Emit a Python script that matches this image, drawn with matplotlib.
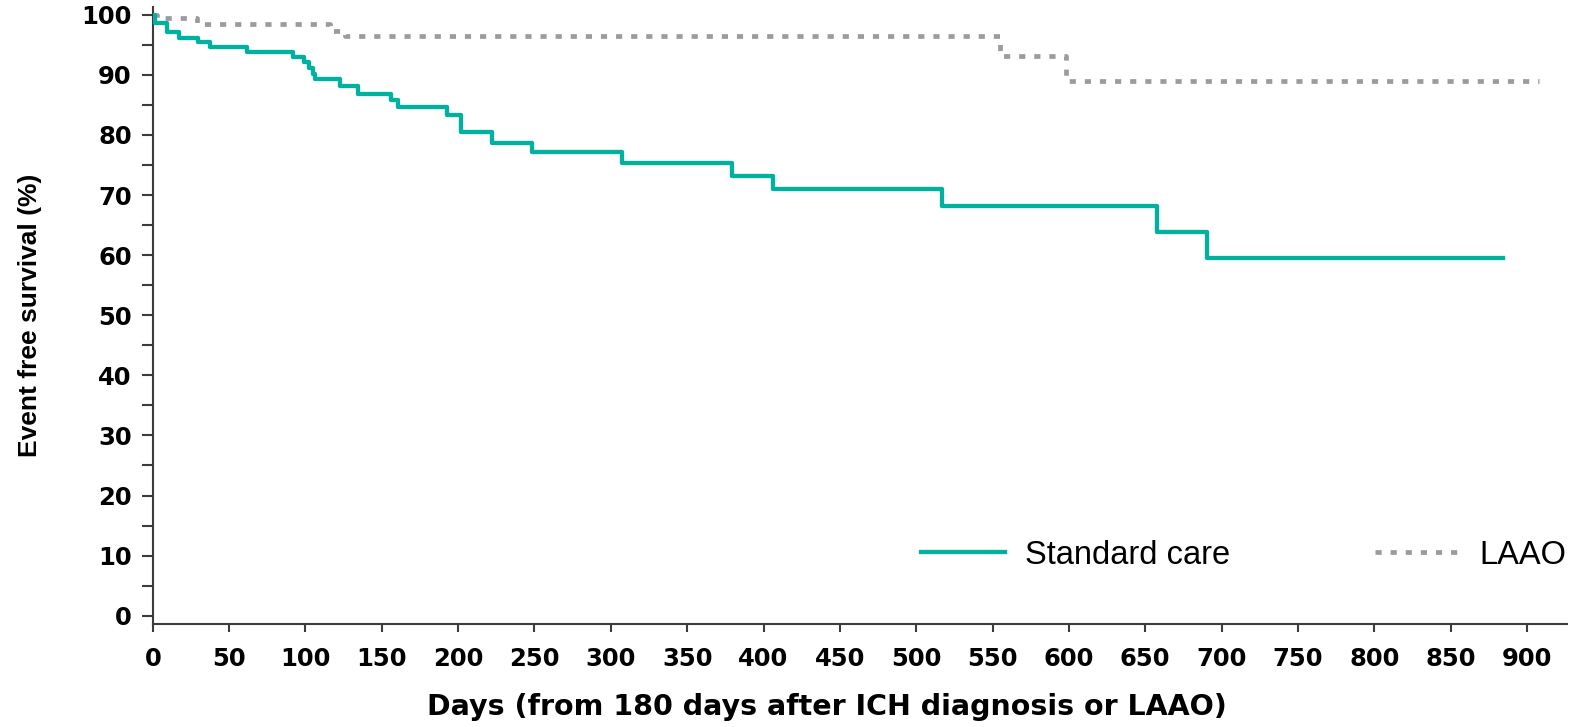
import numpy as np
import matplotlib.pyplot as plt
from matplotlib.ticker import MultipleLocator

# Kaplan-Meier style steps (days, event free %)
sc_days = [0, 1.5, 9.2, 17.4, 29.9, 37.5, 61.9, 92.1, 99.3, 102.5, 104.8, 106.3,
           122.6, 134.6, 155.8, 160.4, 192.5, 201.9, 222, 248.2, 307.5, 379.5,
           406.3, 517, 657.6, 690.3, 884]
sc_surv = [100, 98.7, 97.1, 96.2, 95.4, 94.6, 93.8, 93.0, 92.1, 91.1, 90.2, 89.3,
           88.2, 86.8, 85.8, 84.7, 83.3, 80.5, 78.6, 77.1, 75.3, 73.2,
           71.0, 68.1, 63.8, 59.5, 59.5]

laao_days = [0, 3, 28.8, 116, 126, 555, 598, 908]
laao_surv = [100, 99.4, 98.5, 97.3, 96.4, 93.1, 88.9, 88.9]

x_ticks = np.arange(0, 901, 50)
y_ticks = np.arange(0, 101, 10)

teal = '#00b1a0'
grey = '#9a9b9f'
axis_col = '#3c3c3c'

fig = plt.figure(figsize=(15.75, 7.27), dpi=100)
ax = fig.add_axes([0.0970, 0.1415, 0.8977, 0.8489])

ax.step(laao_days, laao_surv, where='post', color=grey, lw=3.4,
        linestyle=(0, (1.3, 1.9)), label='LAAO', zorder=2)
ax.step(sc_days, sc_surv, where='post', color=teal, lw=3.1,
        label='Standard care', zorder=3)

ax.set_xlim(0, 926)
ax.set_ylim(-1.4, 101.3)
ax.set_xticks(x_ticks)
ax.set_yticks(y_ticks)
ax.yaxis.set_minor_locator(MultipleLocator(5))

for s in ['top', 'right']:
    ax.spines[s].set_visible(False)
for s in ['left', 'bottom']:
    ax.spines[s].set_color(axis_col)
    ax.spines[s].set_linewidth(1.5)

ax.tick_params(axis='y', which='both', length=7.9, width=1.5, color=axis_col,
               direction='out', pad=7.2)
ax.tick_params(axis='x', length=5.8, width=1.5, color=axis_col,
               direction='out', pad=10.5)
for lab in ax.get_xticklabels() + ax.get_yticklabels():
    lab.set_fontfamily('DejaVu Sans')
    lab.set_fontweight('bold')
    lab.set_fontsize(17.5)

ax.set_xlabel('Days (from 180 days after ICH diagnosis or LAAO)',
              fontfamily='DejaVu Sans', fontweight='bold', fontsize=20.5)
ax.xaxis.set_label_coords(0.477, -0.112)
ax.set_ylabel('Event free survival (%)', fontfamily='Liberation Sans',
              fontweight='bold', fontsize=19)
ax.yaxis.set_label_coords(-0.078, 0.5)

handles, labels = ax.get_legend_handles_labels()
leg = ax.legend(handles[::-1], labels[::-1], ncol=2, loc='center right',
                bbox_to_anchor=(1.0, 0.112), frameon=False, borderpad=0,
                borderaxespad=0, handlelength=2.6, handletextpad=0.6,
                columnspacing=4.45,
                prop={'family': 'Liberation Sans', 'size': 23.5})

fig.savefig('out.png', dpi=100)
